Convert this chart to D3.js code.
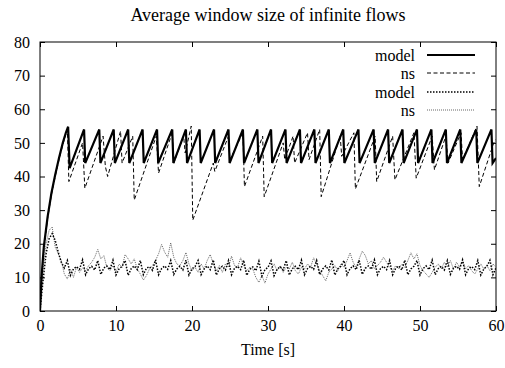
<!DOCTYPE html>
<html><head><meta charset="utf-8">
<script src="https://cdn.jsdelivr.net/npm/d3@7"></script>
<style>
body{margin:0;background:#fff;}
svg text{font-family:"Liberation Serif","Times New Roman",Times,"DejaVu Serif",serif !important;fill:#000;}
</style></head>
<body><svg id="c" width="505" height="368"></svg>
<script>
const title = "Average window size of infinite flows";
const xLabel = "Time [s]";
const xTicks = [0,10,20,30,40,50,60];
const yTicks = [0,10,20,30,40,50,60,70,80];
const legendLabels = ["model","ns","model","ns"];

// thick model (upper): [time, window]
const modelHigh = [[0,0],[0.2,10],[0.5,19],[1,28],[1.5,35],[2,40.5],[2.5,45.5],[3,50],[3.4,53],[3.7,54.8],[3.9,42.5],
[5.8,54],[5.95,44],[7.8,54],[7.95,44],[9.7,54],[9.85,44],[11.6,54],[11.75,44],[13.5,54],[13.65,44],[15.4,54],[15.55,44],
[17.4,54],[17.55,44],[19.2,54],[19.35,44],[21.0,54],[21.15,44],[22.9,54],[23.05,44],[24.8,54],[24.95,44],[26.7,54],[26.85,44],
[28.6,54],[28.75,44],[30.4,54],[30.55,44],[32.3,54],[32.45,44],[34.2,54],[34.35,44],[36.1,54],[36.25,44],[38.0,54],[38.15,44],
[39.9,54],[40.05,44],[41.9,54],[42.05,44],[43.9,54],[44.05,44],[45.8,54],[45.95,44],[47.7,54],[47.85,44],[49.6,54],[49.75,44],
[51.5,54],[51.65,44],[53.4,54],[53.55,44],[55.3,54],[55.45,44],[57.4,54],[57.55,44],[59.4,54],[59.55,44],[60,45.5]];

// ns (upper, dashed)
const nsHigh = [[0,0],[0.2,9],[0.5,18],[1,27.5],[1.5,34.5],[2,40],[2.5,45],[3,49.5],[3.4,52.5],[3.6,54],[3.8,38.5],
[5.6,50],[5.9,36.5],[8.3,52],[8.6,43],[8.9,40],[10.6,53.5],[10.8,44],[12.2,52],[12.4,33],[15.3,52],[15.6,41],[17.4,53],[17.6,44],
[18.9,52],[19.1,47],[19.9,55],[20.1,27],[22.8,44],[23.0,41.5],[24.8,52],[25.0,45],[26.7,53],[26.9,37],[29.3,52],[29.5,34],
[32.0,50],[32.2,45],[33.3,52],[33.5,44],[35.2,53],[35.4,45],[36.8,54],[37.0,34],[39.5,52],[39.7,46],[41.3,53],[41.5,36.3],
[44.1,52],[44.3,38.5],[46.4,52],[46.7,39],[49.2,53],[49.5,39.5],[51.6,52],[51.9,42],[53.4,52],[53.7,44],[55.4,53],[55.6,45],
[57.5,55],[57.8,37],[59.7,50],[60,51]];

// lower series sampled every 0.4 s
const lowStep = 0.4;
const modelLow = [0,9,17,21.5,23,21,17.5,14.5,12.8,15,10.6,12.5,13.2,12.4,15.2,10.8,12.6,13.3,12.2,15,
10.9,12.8,13.4,12.3,15.1,10.7,12.5,13.3,15,10.6,12.6,13.4,12.3,15,10.8,12.7,13.2,12.1,15.2,10.8,
12.6,13.4,12.4,15,10.9,12.5,13.3,12.2,15.1,10.7,12.6,13.2,15,10.8,12.5,13.4,12.3,15.2,10.7,12.6,
13.3,12.2,15,10.8,12.7,13.3,12.3,15.1,10.6,12.4,13.1,12,14.8,10.4,12.3,13,14.9,10.5,12.4,13.2,
12.2,15,10.7,12.6,13.3,12.3,15.1,10.8,12.6,13.3,12.4,15,10.8,12.5,13.4,12.2,15.2,10.7,12.6,13.3,
15,10.8,12.6,13.4,12.3,15.1,10.9,12.7,13.4,12.4,15.2,10.8,12.6,13.3,12.3,15,10.8,12.7,13.4,12.2,
15.1,10.8,12.5,13.3,15,10.7,12.6,13.4,12.3,15.1,10.8,12.6,13.3,12.2,15,10.9,12.7,13.3,12.4,15.2,
10.8,12.6,13.2,12.3,15,10.7,12.5,13.3,15.1,10.8,12.8];
const nsLow = [0,12,20,24,25,19,17,15,11,9.5,12.5,10,13,11.5,12.8,12,13.5,14.5,16,18.3,
15.5,16.5,13,12,13.5,11.5,14,13,16.8,15.5,14,15.5,12.5,11,9.2,10.5,12.5,13.5,15,17,
19.8,17.5,16,20.3,16,14,13.5,15,17.4,14,12,13,11.5,14,12.5,15,16.8,14,12,13.5,
11.5,14,13,16.3,13.5,13,15.8,13.5,12,13,12.5,10,8.5,10.5,8.3,11,12.5,14,12,13.5,
11.5,13,12.5,14.5,12,11,13,12.5,14,13,15.8,14,12,10.5,9,11.5,12.5,13.5,12,14,
13,15,17.3,14.5,13,15.5,17.8,16.5,14,15,12.5,13.5,14.5,16,14.5,13,12,13.5,12.5,14,
13,15,17.3,15.5,17,13.5,12,11,10,11.5,13,14,12.5,14.5,13,15,12.5,14.5,13,15,
12.5,13.5,12,11,12.5,14,12.5,13.5,12,14,13];

const svg = d3.select("#c");
const m = {l:40, r:9, t:42, b:57};
const W = 505, H = 368;
const x = d3.scaleLinear().domain([0,60]).range([m.l, W-m.r]);
const y = d3.scaleLinear().domain([0,80]).range([H-m.b, m.t]);
const FONT = '"Liberation Serif","Times New Roman",Times,"DejaVu Serif",serif';

// title
svg.append("text").attr("x", (x(0)+x(60))/2).attr("y", 21).attr("text-anchor","middle")
  .style("font-size","18px").attr("font-family",FONT).text(title);

// axes with inward ticks and mirrors
const tickLen = 5;
const gB = svg.append("g").attr("transform",`translate(0,${y(0)})`)
  .call(d3.axisBottom(x).tickValues(xTicks).tickSize(-tickLen).tickPadding(9).tickFormat(d3.format("d")));
const gT = svg.append("g").attr("transform",`translate(0,${y(80)})`)
  .call(d3.axisTop(x).tickValues(xTicks).tickSize(-tickLen).tickFormat(""));
const gL = svg.append("g").attr("transform",`translate(${x(0)},0)`)
  .call(d3.axisLeft(y).tickValues(yTicks).tickSize(-tickLen).tickPadding(10).tickFormat(d3.format("d")));
const gR = svg.append("g").attr("transform",`translate(${x(60)},0)`)
  .call(d3.axisRight(y).tickValues(yTicks).tickSize(-tickLen).tickFormat(""));
[gB,gT,gL,gR].forEach(g=>{
  g.attr("font-family",FONT);
  g.select(".domain").remove();
  g.selectAll("line").attr("stroke","#000").attr("stroke-width",1);
  g.selectAll("text").style("font-size","16px").attr("font-family",FONT);
});
svg.append("rect").attr("x",x(0)).attr("y",y(80)).attr("width",x(60)-x(0)).attr("height",y(0)-y(80))
  .attr("fill","none").attr("stroke","#000").attr("stroke-width",1);

svg.append("text").attr("x",(x(0)+x(60))/2).attr("y",355).attr("text-anchor","middle")
  .style("font-size","16px").attr("font-family",FONT).text(xLabel);

svg.append("clipPath").attr("id","pc").append("rect")
  .attr("x",x(0)).attr("y",y(80)).attr("width",x(60)-x(0)).attr("height",y(0)-y(80));

const line = d3.line().x(d=>x(d[0])).y(d=>y(d[1]));
const styles = [
  {w:2.2, dash:null, col:"#000"},
  {w:1, dash:"4,2.5", col:"#000"},
  {w:1.5, dash:"1.5,1.5", col:"#000"},
  {w:0.9, dash:"1,1", col:"#555"}
];
const toPts = arr => arr.map((v,i)=>[i*lowStep, v]);
const series = [toPts(nsLow), toPts(modelLow), nsHigh, modelHigh];
const sIdx = [3,2,1,0];
const pg = svg.append("g").attr("clip-path","url(#pc)");
series.forEach((s,k)=>{
  const st = styles[sIdx[k]];
  pg.append("path").datum(s).attr("d",line).attr("fill","none")
    .attr("stroke",st.col).attr("stroke-width",st.w)
    .attr("stroke-dasharray",st.dash).attr("stroke-linejoin","miter");
});

// legend
const ly = [55,73,92,110];
legendLabels.forEach((lab,i)=>{
  const st = styles[i];
  svg.append("text").attr("x",415).attr("y",ly[i]).attr("dy","0.35em").attr("text-anchor","end")
    .style("font-size","16px").attr("font-family",FONT).text(lab);
  svg.append("line").attr("x1",427).attr("x2",475).attr("y1",ly[i]).attr("y2",ly[i])
    .attr("stroke",st.col).attr("stroke-width",st.w).attr("stroke-dasharray",st.dash);
});
</script></body></html>
